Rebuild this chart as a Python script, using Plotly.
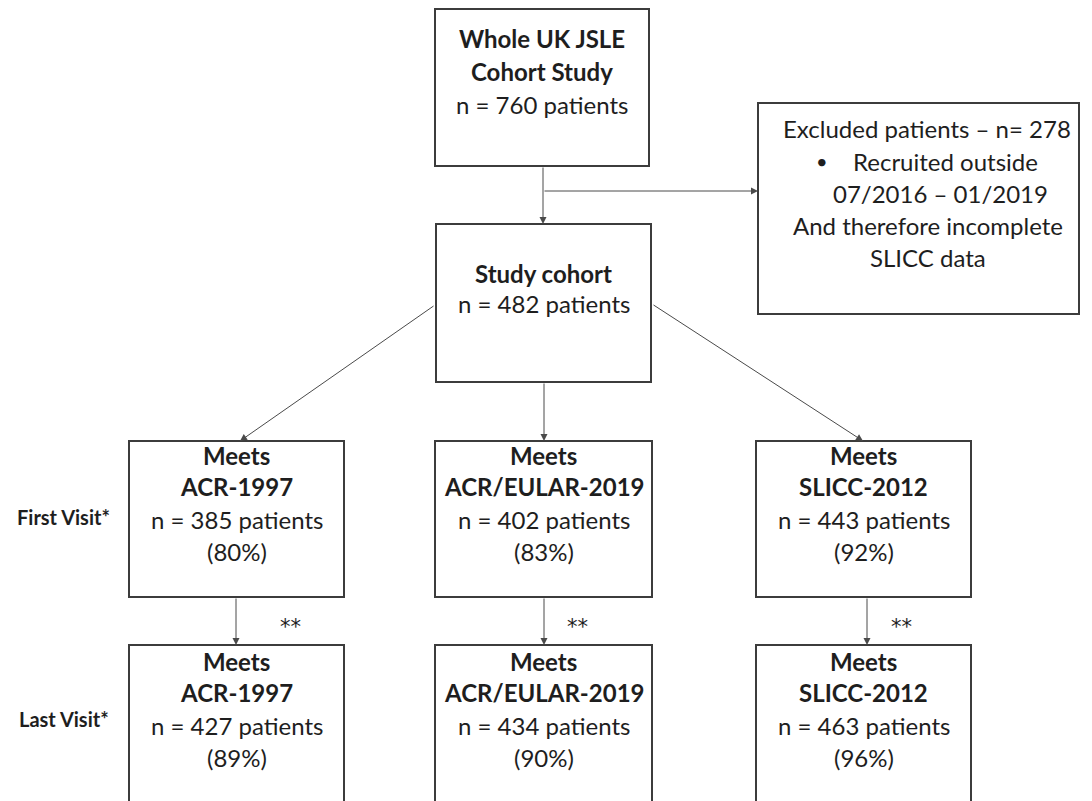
import plotly.graph_objects as go

# ---- data ----
total_n = 760
excluded_n = 278
cohort_n = 482
criteria = ["ACR-1997", "ACR/EULAR-2019", "SLICC-2012"]
first_n = [385, 402, 443]
first_pct = [80, 83, 92]
last_n = [427, 434, 463]
last_pct = [89, 90, 96]
visit_labels = ["First Visit*", "Last Visit*"]
excluded_lines = ["Recruited outside", "07/2016 \u2013 01/2019", "And therefore incomplete", "SLICC data"]

# ---- layout geometry (pixels, y downward) ----
W, H = 1092, 801
PAD = 8  # default page body margin
FONT = "Lato, 'Open Sans', sans-serif"
TXT = "#1e1e1e"
BOX = "#3c3c3c"
LINE = "#4a4a4a"
FS = 24

top_box = (435, 649, 9, 166)
excl_box = (758, 1079, 103, 314)
study_box = (436, 651, 224, 382)
cols = [(129, 344), (435, 652), (756, 971)]
row1 = (441, 597)
row2 = (645, 815)
down_x = [236, 544, 867]
star_x = [290, 577, 901]

fig = go.Figure()
shapes = []
ann = []

def box(x0, x1, y0, y1):
    shapes.append(dict(type="rect", xref="x", yref="y", x0=x0, x1=x1, y0=y0, y1=y1,
                       line=dict(color=BOX, width=2), fillcolor="rgba(0,0,0,0)"))

def text(x, y, s, bold=False, size=FS, xanchor="center", family=FONT):
    ann.append(dict(x=x, y=y, xref="x", yref="y", text=f"<b>{s}</b>" if bold else s,
                    showarrow=False, xanchor=xanchor, yanchor="middle",
                    font=dict(family=family, size=size, color=TXT)))

def arrow(x0, y0, x1, y1):
    ann.append(dict(x=x1, y=y1, ax=x0, ay=y0, xref="x", yref="y", axref="x", ayref="y",
                    text="", showarrow=True, arrowhead=2, arrowsize=1.4, arrowwidth=1,
                    arrowcolor=LINE, standoff=0))

# top box
box(*top_box)
cx = (top_box[0] + top_box[1]) / 2
text(cx, 38, "Whole UK JSLE", bold=True)
text(cx, 71, "Cohort Study", bold=True)
text(cx, 104, f"n = {total_n} patients")

# excluded box
box(*excl_box)
text(927, 128, f"Excluded patients \u2013 n= {excluded_n}")
text(822, 161, "\u2022", size=20)
text(945, 161, excluded_lines[0])
text(940, 193, excluded_lines[1])
text(928, 225, excluded_lines[2])
text(928, 257, excluded_lines[3])

# study cohort
box(*study_box)
sx = (study_box[0] + study_box[1]) / 2
text(sx, 273, "Study cohort", bold=True)
text(sx, 303, f"n = {cohort_n} patients")

# connectors top
arrow(543, 166, 543, 224)
arrow(543, 191, 758, 191)

# diagonals / middle
arrow(435, 305, 240, 441)
arrow(544, 382, 544, 441)
arrow(652, 304, 863, 441)

for i, (x0, x1) in enumerate(cols):
    c = (x0 + x1) / 2
    box(x0, x1, row1[0], row1[1])
    box(x0, x1, row2[0], row2[1])
    text(c, 455, "Meets", bold=True)
    text(c, 486, criteria[i], bold=True)
    text(c, 519, f"n = {first_n[i]} patients")
    text(c, 551, f"({first_pct[i]}%)")
    text(c, 661, "Meets", bold=True)
    text(c, 692, criteria[i], bold=True)
    text(c, 725, f"n = {last_n[i]} patients")
    text(c, 757, f"({last_pct[i]}%)")
    arrow(down_x[i], row1[1], down_x[i], row2[0])
    text(star_x[i], 627, "**", size=21, family="'DejaVu Sans', sans-serif")

text(63, 517, visit_labels[0], bold=True, size=20)
text(64, 719, visit_labels[1], bold=True, size=20)

fig.update_layout(
    width=W - PAD, height=H - PAD, margin=dict(l=0, r=0, t=0, b=0),
    paper_bgcolor="white", plot_bgcolor="white",
    xaxis=dict(range=[PAD, W], visible=False, fixedrange=True),
    yaxis=dict(range=[H, PAD], visible=False, fixedrange=True),
    shapes=shapes, annotations=ann, showlegend=False,
)
fig.write_html("out.html")
